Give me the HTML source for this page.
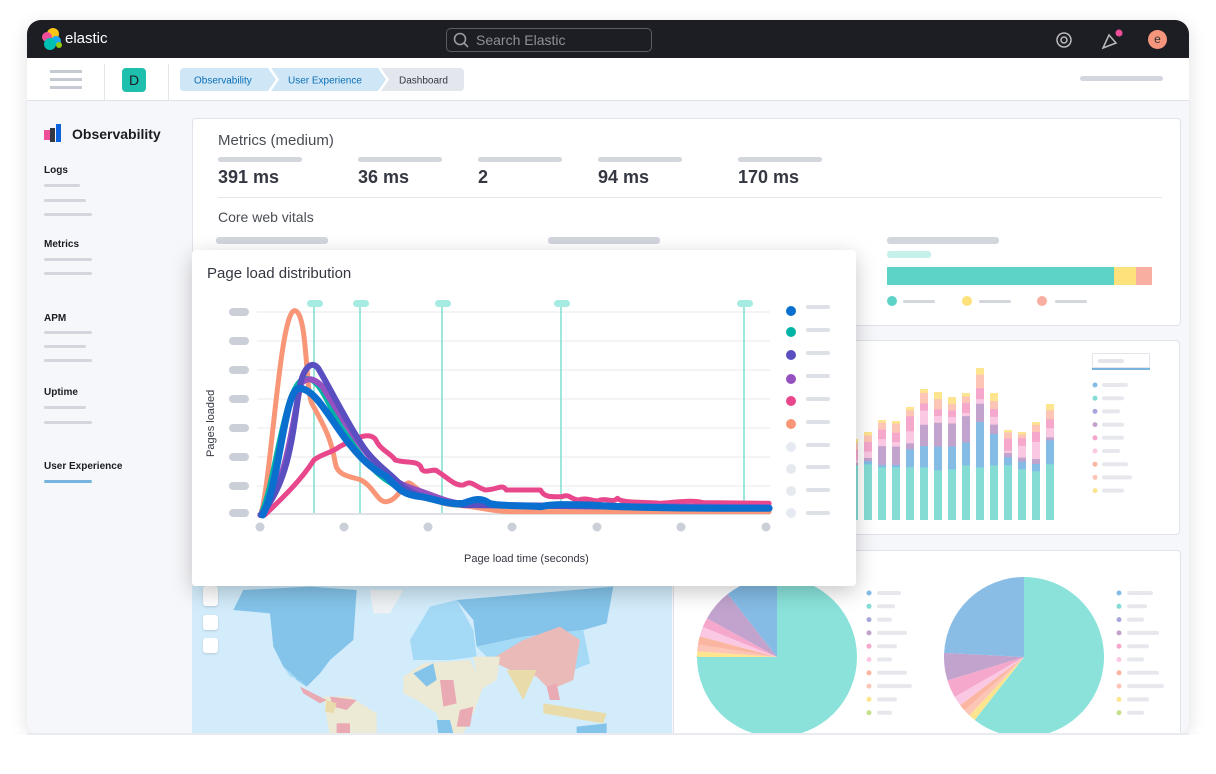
<!DOCTYPE html>
<html><head><meta charset="utf-8"><style>
*{margin:0;padding:0;box-sizing:border-box}
body{width:1216px;height:774px;background:#fff;position:relative;overflow:hidden;font-family:"Liberation Sans",sans-serif}
.a{position:absolute}
.pill{position:absolute;background:#d3d6dd;border-radius:3px}
.frame{left:27px;top:20px;width:1162px;height:715px;border-radius:14px;overflow:hidden;box-shadow:0 4px 18px rgba(0,0,0,.12);background:#f6f7fa}
.sb{font-size:10px;font-weight:bold;color:#1a1c21}
.panel{position:absolute;background:#fff;border:1px solid #e0e3ea;border-radius:4px}
.val{position:absolute;font-size:18px;font-weight:bold;color:#343741}
</style></head><body>
<div class="a frame">
 <div class="a" style="left:0;top:0;width:1162px;height:38px;background:#1d1e24"></div>
 <svg class="a" style="left:12px;top:6px" width="26" height="26" viewBox="0 0 26 26">
  <circle cx="14" cy="8" r="6" fill="#fec514"/><circle cx="8" cy="11" r="5" fill="#f04e98"/>
  <circle cx="17" cy="15" r="5" fill="#1ba9f5"/><circle cx="11" cy="18" r="6" fill="#00bfb3"/><circle cx="20" cy="19" r="3" fill="#93c90e"/>
 </svg>
 <div class="a" style="left:38px;top:10px;color:#fff;font-size:15px">elastic</div>
 <div class="a" style="left:419px;top:8px;width:206px;height:24px;border:1.5px solid #5a5d66;border-radius:5px"></div>
 <svg class="a" style="left:426px;top:12px" width="16" height="16"><circle cx="7" cy="7" r="5.5" stroke="#9a9ca3" stroke-width="1.6" fill="none"/><line x1="11" y1="11" x2="15" y2="15" stroke="#9a9ca3" stroke-width="1.6"/></svg>
 <div class="a" style="left:449px;top:12px;color:#8d9099;font-size:14px">Search Elastic</div>
 <svg class="a" style="left:1028px;top:11px" width="18" height="18"><circle cx="9" cy="9" r="7" stroke="#bbb" stroke-width="1.5" fill="none"/><circle cx="9" cy="9" r="3" stroke="#bbb" stroke-width="1.5" fill="none"/></svg>
 <svg class="a" style="left:1073px;top:9px" width="24" height="22"><path d="M3 19 L9 6 L16 14 Z" stroke="#bbb" stroke-width="1.5" fill="none"/><circle cx="19" cy="4" r="3.5" fill="#f04e98"/></svg>
 <div class="a" style="left:1121px;top:10px;width:19px;height:19px;border-radius:50%;background:#f5957c;color:#333;font-size:12px;text-align:center;line-height:18px">e</div>
 <div class="a" style="left:0;top:38px;width:1162px;height:43px;background:#fff;border-bottom:1px solid #dfe2e8"></div>
 <div class="a" style="left:23px;top:50px;width:32px;height:3px;background:#c6cad3"></div>
 <div class="a" style="left:23px;top:58px;width:32px;height:3px;background:#c6cad3"></div>
 <div class="a" style="left:23px;top:66px;width:32px;height:3px;background:#c6cad3"></div>
 <div class="a" style="left:77px;top:44px;width:1px;height:36px;background:#e3e5ea"></div>
 <div class="a" style="left:95px;top:48px;width:24px;height:24px;border-radius:4px;background:#1fbfae;color:#1a1c21;font-size:14px;text-align:center;line-height:24px">D</div>
 <div class="a" style="left:141px;top:44px;width:1px;height:36px;background:#e3e5ea"></div>
 <svg class="a" style="left:153px;top:48px" width="285" height="23">
  <path d="M4 0 H88 L96 11.5 L88 23 H4 Q0 23 0 19 V4 Q0 0 4 0Z" fill="#cfe6f6"/>
  <path d="M91 0 H198 L206 11.5 L198 23 H91 L99 11.5Z" fill="#cfe6f6"/>
  <path d="M201 0 H280 Q284 0 284 4 V19 Q284 23 280 23 H201 L209 11.5Z" fill="#e3e6ec"/>
  <text x="14" y="15.5" font-size="10" fill="#0b6fb7" font-family="Liberation Sans">Observability</text>
  <text x="108" y="15.5" font-size="10" fill="#0b6fb7" font-family="Liberation Sans">User Experience</text>
  <text x="219" y="15.5" font-size="10" fill="#343741" font-family="Liberation Sans">Dashboard</text>
 </svg>
 <div class="pill" style="left:1053px;top:56px;width:83px;height:5px"></div>
 <div class="a" style="left:17px;top:110px;width:6px;height:10px;background:#f04e98"></div>
 <div class="a" style="left:23px;top:108px;width:5px;height:14px;background:#343741"></div>
 <div class="a" style="left:29px;top:104px;width:5px;height:18px;background:#0b64dd"></div>
 <div class="a" style="left:45px;top:106px;font-size:14px;font-weight:bold;color:#1a1c21">Observability</div>
 <div class="a sb" style="left:17px;top:145px">Logs</div>
 <div class="pill" style="left:17px;top:164px;width:36px;height:3px"></div>
 <div class="pill" style="left:17px;top:179px;width:42px;height:3px"></div>
 <div class="pill" style="left:17px;top:193px;width:48px;height:3px"></div>
 <div class="a sb" style="left:17px;top:219px">Metrics</div>
 <div class="pill" style="left:17px;top:238px;width:48px;height:3px"></div>
 <div class="pill" style="left:17px;top:252px;width:48px;height:3px"></div>
 <div class="a sb" style="left:17px;top:293px">APM</div>
 <div class="pill" style="left:17px;top:311px;width:48px;height:3px"></div>
 <div class="pill" style="left:17px;top:325px;width:42px;height:3px"></div>
 <div class="pill" style="left:17px;top:339px;width:48px;height:3px"></div>
 <div class="a sb" style="left:17px;top:367px">Uptime</div>
 <div class="pill" style="left:17px;top:386px;width:42px;height:3px"></div>
 <div class="pill" style="left:17px;top:401px;width:48px;height:3px"></div>
 <div class="a sb" style="left:17px;top:441px">User Experience</div>
 <div class="a" style="left:17px;top:460px;width:48px;height:3px;background:#79b4e0;border-radius:2px"></div>
</div>

<div class="panel" style="left:192px;top:118px;width:989px;height:208px"></div>
<div class="a" style="left:218px;top:132px;font-size:15px;color:#4a4d55">Metrics (medium)</div>
<div class="pill" style="left:218px;top:157px;width:84px;height:5px"></div>
<div class="pill" style="left:358px;top:157px;width:84px;height:5px"></div>
<div class="pill" style="left:478px;top:157px;width:84px;height:5px"></div>
<div class="pill" style="left:598px;top:157px;width:84px;height:5px"></div>
<div class="pill" style="left:738px;top:157px;width:84px;height:5px"></div>
<div class="val" style="left:218px;top:167px">391 ms</div>
<div class="val" style="left:358px;top:167px">36 ms</div>
<div class="val" style="left:478px;top:167px">2</div>
<div class="val" style="left:598px;top:167px">94 ms</div>
<div class="val" style="left:738px;top:167px">170 ms</div>
<div class="a" style="left:218px;top:197px;width:944px;height:1px;background:#e3e5ea"></div>
<div class="a" style="left:218px;top:209px;font-size:14px;color:#4a4d55">Core web vitals</div>
<div class="pill" style="left:216px;top:237px;width:112px;height:7px"></div>
<div class="pill" style="left:548px;top:237px;width:112px;height:7px"></div>
<div class="pill" style="left:887px;top:237px;width:112px;height:7px"></div>
<div class="a" style="left:887px;top:251px;width:44px;height:7px;background:#c6f0ea;border-radius:3px"></div>
<div class="a" style="left:887px;top:267px;width:227px;height:18px;background:#5dd3c8"></div>
<div class="a" style="left:1114px;top:267px;width:22px;height:18px;background:#fde17a"></div>
<div class="a" style="left:1136px;top:267px;width:16px;height:18px;background:#f8aea0"></div>
<div class="a" style="left:887px;top:296px;width:10px;height:10px;border-radius:50%;background:#5dd3c8"></div>
<div class="pill" style="left:903px;top:300px;width:32px;height:3px"></div>
<div class="a" style="left:962px;top:296px;width:10px;height:10px;border-radius:50%;background:#fde17a"></div>
<div class="pill" style="left:979px;top:300px;width:32px;height:3px"></div>
<div class="a" style="left:1037px;top:296px;width:10px;height:10px;border-radius:50%;background:#f8aea0"></div>
<div class="pill" style="left:1055px;top:300px;width:32px;height:3px"></div>

<div class="panel" style="left:674px;top:340px;width:506px;height:195px"></div>
<svg class="a" style="left:0;top:0" width="1216" height="774" id="bars"></svg>
<div class="a" style="left:1092px;top:353px;width:58px;height:15px;border:1px solid #e3e5ea;background:#fff"></div>
<div class="pill" style="left:1098px;top:359px;width:26px;height:4px;background:#e3e5ea"></div>
<div class="a" style="left:1092px;top:368px;width:58px;height:2px;background:#79b4e0"></div>

<div class="panel" style="left:673px;top:550px;width:508px;height:200px"></div>
<div class="a" style="left:192px;top:586px;width:480px;height:150px;background:#d2ecfb;overflow:hidden">
<svg width="480" height="150"><g transform="translate(-2,-6) scale(0.3333)" stroke="none">
<polygon fill="#84c4ea" points="160,30 360,20 500,30 490,180 420,240 390,280 350,320 320,300 280,260 250,200 240,100 130,90"/>
<polygon fill="#a8dcf7" points="280,260 350,320 330,300 300,290"/>
<polygon fill="#eef2f4" points="540,30 640,30 600,100 550,100"/>
<polygon fill="#a5daf6" points="660,180 720,80 800,60 850,150 860,230 780,240 670,240"/>
<polygon fill="#84c4ea" points="800,60 1270,20 1250,130 1180,150 1000,170 860,200 850,120"/>
<polygon fill="#a5daf6" points="860,200 1000,170 1100,160 1180,150 1200,250 1150,270 1000,210 900,240"/>
<polygon fill="#e9bab8" points="950,210 1000,180 1110,140 1170,180 1150,300 1080,330 1040,290 960,270 900,240"/>
<polygon fill="#ece9d5" points="640,290 700,250 840,240 880,320 850,400 820,460 760,460 740,400 680,360 640,340"/>
<polygon fill="#84c4ea" points="670,280 730,250 740,300 710,320"/>
<polygon fill="#e9aab3" points="750,300 790,300 800,370 760,380"/>
<polygon fill="#e9aab3" points="810,390 850,380 840,440 800,440"/>
<polygon fill="#84c4ea" points="740,420 780,420 790,460 745,460"/>
<polygon fill="#ece9d5" points="850,230 930,230 920,300 870,330"/>
<polygon fill="#eadbaa" points="950,270 1040,270 1000,360"/>
<polygon fill="#ece9d5" points="400,350 480,350 560,400 560,470 420,470"/>
<polygon fill="#e9aab3" points="420,350 500,360 470,390 430,380"/>
<polygon fill="#eadbaa" points="410,360 440,370 430,400 405,395"/>
<polygon fill="#e9aab3" points="440,430 480,430 480,470 440,470"/>
<polygon fill="#eadbaa" points="1060,370 1250,400 1240,430 1060,400"/>
<polygon fill="#e9aab3" points="1070,320 1100,310 1110,360 1080,360"/>
<polygon fill="#84c4ea" points="1160,440 1250,430 1250,470 1160,470"/>
<polygon fill="#e9aab3" points="330,320 410,360 390,370 340,340"/>
</g></svg>
<div class="a" style="left:11px;top:0;width:15px;height:20px;background:#fff;border-radius:3px;box-shadow:0 1px 2px rgba(0,0,0,.15)"></div>
<div class="a" style="left:11px;top:29px;width:15px;height:15px;background:#fff;border-radius:3px;box-shadow:0 1px 2px rgba(0,0,0,.15)"></div>
<div class="a" style="left:11px;top:52px;width:15px;height:15px;background:#fff;border-radius:3px;box-shadow:0 1px 2px rgba(0,0,0,.15)"></div>
</div>
<svg class="a" style="left:0;top:0" width="1216" height="774" id="pies"></svg>
<div class="a" style="left:0;top:735px;width:1216px;height:39px;background:#fff"></div>
<div class="a" style="left:27px;top:733px;width:1162px;height:2px;background:#e9ebf0"></div>

<div class="a" style="left:192px;top:250px;width:664px;height:336px;background:#fff;border-radius:4px;box-shadow:0 6px 22px rgba(0,0,0,.22)"></div>
<div class="a" style="left:207px;top:265px;font-size:15px;color:#343741">Page load distribution</div>
<svg class="a" style="left:0;top:0" width="1216" height="774">
 <g stroke="#f0f1f4" stroke-width="1.5">
  <line x1="257" y1="312" x2="770" y2="312"/><line x1="257" y1="341" x2="770" y2="341"/><line x1="257" y1="370" x2="770" y2="370"/><line x1="257" y1="399" x2="770" y2="399"/>
  <line x1="257" y1="428" x2="770" y2="428"/><line x1="257" y1="457" x2="770" y2="457"/><line x1="257" y1="486" x2="770" y2="486"/>
 </g>
 <line x1="257" y1="514" x2="770" y2="514" stroke="#d3d6dd" stroke-width="1.5"/>
 <g fill="#cbcfd7">
  <rect x="229" y="308" width="20" height="8" rx="4"/><rect x="229" y="337" width="20" height="8" rx="4"/><rect x="229" y="366" width="20" height="8" rx="4"/><rect x="229" y="395" width="20" height="8" rx="4"/>
  <rect x="229" y="424" width="20" height="8" rx="4"/><rect x="229" y="453" width="20" height="8" rx="4"/><rect x="229" y="482" width="20" height="8" rx="4"/><rect x="229" y="509" width="20" height="8" rx="4"/>
  <circle cx="260" cy="527" r="4.5"/><circle cx="344" cy="527" r="4.5"/><circle cx="428" cy="527" r="4.5"/><circle cx="512" cy="527" r="4.5"/><circle cx="597" cy="527" r="4.5"/><circle cx="681" cy="527" r="4.5"/><circle cx="766" cy="527" r="4.5"/>
 </g>
 <g stroke="#7fdfd2" stroke-width="1.5">
  <line x1="314" y1="305" x2="314" y2="513"/><line x1="360" y1="305" x2="360" y2="513"/><line x1="442" y1="305" x2="442" y2="513"/><line x1="561" y1="305" x2="561" y2="513"/><line x1="744" y1="305" x2="744" y2="513"/>
 </g>
 <g fill="#a6ebe2">
  <rect x="307" y="300" width="16" height="7" rx="3.5"/><rect x="353" y="300" width="16" height="7" rx="3.5"/><rect x="435" y="300" width="16" height="7" rx="3.5"/><rect x="554" y="300" width="16" height="7" rx="3.5"/><rect x="737" y="300" width="16" height="7" rx="3.5"/>
 </g>
 <text transform="translate(214,457) rotate(-90)" font-size="11" fill="#343741" font-family="Liberation Sans">Pages loaded</text>
 <text x="464" y="562" font-size="11" fill="#343741" font-family="Liberation Sans">Page load time (seconds)</text>
 <g transform="translate(190,250) scale(0.4274,0.3333)" fill="none" stroke-linecap="round" stroke-linejoin="round">
  <path vector-effect="non-scaling-stroke" stroke-width="5" stroke="#f99678" d="M165,795 C190,700 210,180 245,182 C275,185 270,420 285,460 C310,520 330,560 340,640 C345,680 380,680 400,690 C430,710 440,760 460,755 C490,750 500,690 515,700 C540,720 560,760 620,765 C680,770 700,785 760,785 L1355,785"/>
  <path vector-effect="non-scaling-stroke" stroke-width="5" stroke="#e8488b" d="M175,795 C220,740 260,690 290,630 C310,610 330,610 350,590 C380,570 420,540 435,570 C445,600 470,610 480,630 C500,640 530,630 540,650 C545,680 570,650 580,665 C600,680 620,710 640,705 C660,690 660,705 690,720 C720,720 730,700 740,720 L820,720 C830,745 850,740 870,740 C890,730 890,750 910,750 C930,740 950,760 960,750 C980,745 990,760 1000,745 C1010,760 1050,755 1100,760 C1150,755 1180,750 1200,758 L1355,760"/>
  <path vector-effect="non-scaling-stroke" stroke-width="5" stroke="#00b3a4" d="M165,795 C200,700 220,390 270,385 C310,385 330,500 370,560 C400,620 430,670 470,700 C500,730 560,750 620,765 L1355,775"/>
  <path vector-effect="non-scaling-stroke" stroke-width="6" stroke="#9651c1" d="M165,795 C230,700 240,500 260,400 C275,380 290,385 310,410 C340,470 370,540 420,620 C450,670 480,700 530,720 C580,740 600,760 660,765 L1355,772"/>
  <path vector-effect="non-scaling-stroke" stroke-width="6" stroke="#5a4fc0" d="M165,795 C230,700 240,560 255,420 C265,350 285,330 300,355 C330,420 360,500 400,580 C430,640 460,660 490,700 C520,740 580,755 640,765 L1355,775"/>
  <path vector-effect="non-scaling-stroke" stroke-width="7" stroke="#0b6fd0" d="M170,795 C210,700 220,420 255,415 C290,415 320,490 360,560 C400,630 430,660 460,680 C490,720 500,735 540,740 C570,745 600,765 640,760 C660,750 680,740 700,760 C720,770 780,765 820,770 C860,760 900,765 940,765 C980,770 1100,775 1355,775"/>
 </g>
 <g>
  <circle cx="791" cy="311" r="5" fill="#0b6fd0"/><circle cx="791" cy="332" r="5" fill="#00b3a4"/><circle cx="791" cy="355" r="5" fill="#5a4fc0"/><circle cx="791" cy="379" r="5" fill="#9651c1"/>
  <circle cx="791" cy="401" r="5" fill="#e8488b"/><circle cx="791" cy="424" r="5" fill="#f99678"/><circle cx="791" cy="447" r="5" fill="#e6eaf0"/><circle cx="791" cy="469" r="5" fill="#e6eaf0"/>
  <circle cx="791" cy="491" r="5" fill="#e6eaf0"/><circle cx="791" cy="513" r="5" fill="#e6eaf0"/>
 </g>
 <g fill="#dde0e6">
  <rect x="806" y="305" width="24" height="4" rx="2"/><rect x="806" y="328" width="24" height="4" rx="2"/><rect x="806" y="351" width="24" height="4" rx="2"/><rect x="806" y="374" width="24" height="4" rx="2"/>
  <rect x="806" y="397" width="24" height="4" rx="2"/><rect x="806" y="420" width="24" height="4" rx="2"/><rect x="806" y="443" width="24" height="4" rx="2"/><rect x="806" y="465" width="24" height="4" rx="2"/>
  <rect x="806" y="488" width="24" height="4" rx="2"/><rect x="806" y="511" width="24" height="4" rx="2"/>
 </g>
</svg>
<script>
(function(){
var NS="http://www.w3.org/2000/svg";
function el(p,t,a){var e=document.createElementNS(NS,t);for(var k in a)e.setAttribute(k,a[k]);p.appendChild(e);return e;}
var cols=["#84dcd4","#84bce6","#c1a3cd","#fac8e2","#f5a7cc","#fdc5b5","#fde48e"];
var b=document.getElementById("bars");
var tops=[439,432,420,421,407,389,392,397,393,368,393,430,432,422,404];
var fr=[[.0,.1,.1,.4,.25,.15],[.1,.1,.2,.3,.2,.1],[.05,.4,.15,.2,.15,.05],[.05,.4,.1,.2,.2,.05],[.3,.1,.2,.25,.1,.05],[.3,.3,.2,.1,.15,.05],[.35,.35,.1,.1,.15,.1],[.35,.35,.1,.1,.1,.1],[.35,.4,.05,.15,.1,.05],[.5,.2,.05,.12,.15,.07],[.4,.12,.1,.1,.1,.1],[.2,.1,.05,.3,.15,.05],[.2,.1,.3,.2,.1,.05],[.15,.1,.35,.2,.15,.05],[.4,.05,.15,.15,.15,.1]];
var ys=[465,464,467,467,467,467,470,469,465,467,465,465,469,471,464];
for(var i=0;i<15;i++){var x=864+i*14-14,top=tops[i],tb=ys[i];
 el(b,"rect",{x:x,y:tb,width:8,height:520-tb,fill:cols[0]});
 var h=tb-top,y=tb;var f=fr[i],s=f.reduce(function(a,c){return a+c},0);
 for(var j=0;j<6;j++){var hh=h*f[j]/s;y-=hh;el(b,"rect",{x:x,y:y,width:8,height:hh+0.3,fill:cols[j+1]});}
}
var lc=["#84bce6","#84dcd4","#a7a7dc","#c1a3cd","#f5a7cc","#fac8e2","#fbb6a2","#fdc5b5","#fde48e"],lw=[26,22,18,22,22,18,26,30,22];
for(var k=0;k<9;k++){el(b,"circle",{cx:1095,cy:385+k*13.2,r:2.5,fill:lc[k]});el(b,"rect",{x:1102,y:383+k*13.2,width:lw[k],height:4,rx:2,fill:"#e6e8ee"});}
var p=document.getElementById("pies");
function pie(cx,cy,r,sl){var a=0;sl.forEach(function(s){var a2=a+s[0];var r1=(a-90)*Math.PI/180,r2=(a2-90)*Math.PI/180;
 var d="M"+cx+","+cy+" L"+(cx+r*Math.cos(r1))+","+(cy+r*Math.sin(r1))+" A"+r+","+r+" 0 "+(s[0]>180?1:0)+" 1 "+(cx+r*Math.cos(r2))+","+(cy+r*Math.sin(r2))+"Z";
 el(p,"path",{d:d,fill:s[1]});a=a2;});}
pie(777,657,80,[[270,"#8ae2da"],[4,"#fde48e"],[5,"#fdc5b5"],[6,"#fbb6a2"],[7,"#fac8e2"],[7,"#f5a7cc"],[23,"#c1a3cd"],[38,"#84bce6"]]);
pie(1024,657,80,[[218,"#8ae2da"],[5,"#fde48e"],[5,"#fdc5b5"],[5,"#fbb6a2"],[7,"#fac8e2"],[13,"#f5a7cc"],[20,"#c1a3cd"],[87,"#8abde6"]]);
var lc2=["#84bce6","#84dcd4","#a7a7dc","#c1a3cd","#f5a7cc","#fac8e2","#fbb6a2","#fdc5b5","#fde48e","#c5e08a"],lw2=[24,18,15,30,20,15,30,35,20,15];
for(var k=0;k<10;k++){el(p,"circle",{cx:869,cy:593+k*13.3,r:2.5,fill:lc2[k]});el(p,"rect",{x:877,y:591+k*13.3,width:lw2[k],height:4,rx:2,fill:"#e6e8ee"});
 el(p,"circle",{cx:1119,cy:593+k*13.3,r:2.5,fill:lc2[k]});el(p,"rect",{x:1127,y:591+k*13.3,width:lw2[k]+2,height:4,rx:2,fill:"#e6e8ee"});}
})();
</script>
</body></html>
